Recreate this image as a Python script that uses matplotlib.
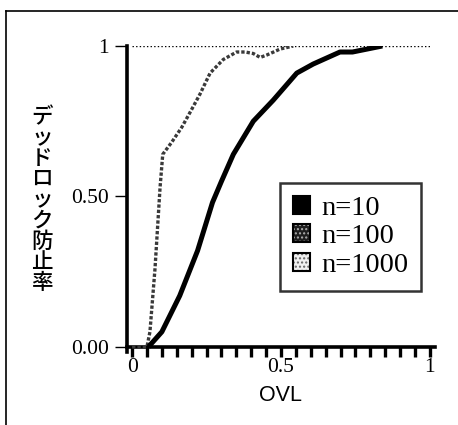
import matplotlib
matplotlib.use("Agg")
import matplotlib.pyplot as plt
from matplotlib.patches import Rectangle
from matplotlib.lines import Line2D
from matplotlib.legend_handler import HandlerBase

# ---- data ----
n10_x = [0.055, 0.10, 0.16, 0.22, 0.27, 0.30, 0.34, 0.407, 0.474, 0.553, 0.608, 0.698, 0.74, 0.84]
n10_y = [0.0, 0.05, 0.17, 0.32, 0.48, 0.55, 0.64, 0.75, 0.82, 0.91, 0.94, 0.98, 0.98, 1.0]

n100_x = [0.0, 0.05, 0.06, 0.077, 0.094, 0.103, 0.133, 0.167, 0.195, 0.228, 0.262,
          0.306, 0.351, 0.38, 0.407, 0.43, 0.452, 0.475, 0.497, 0.52, 0.541]
n100_y = [0.0, 0.0, 0.05, 0.26, 0.53, 0.64, 0.68, 0.73, 0.78, 0.84, 0.91,
          0.955, 0.98, 0.98, 0.975, 0.962, 0.97, 0.98, 0.99, 0.995, 1.0]

n1000_x = [0.0, 1.0]
n1000_y = [1.0, 1.0]

labels = ["n=10", "n=100", "n=1000"]
x_ticklabels = ["0", "0.5", "1"]
y_ticklabels = ["0.00", "0.50", "1"]
ylabel_text = "デッドロック防止率"
xlabel_text = "OVL"

W, H = 458, 425
fig = plt.figure(figsize=(W / 100, H / 100), dpi=100)

# axes placed in pixel units
left_px, right_px, top_px, bottom_px = 127, 435, 46, 352
ax = fig.add_axes([left_px / W, (H - bottom_px) / H,
                   (right_px - left_px) / W, (bottom_px - top_px) / H])
ax.set_xlim(-0.017, 1.017)
ax.set_ylim(-0.017, 1.0)

ax.plot(n1000_x, n1000_y, color="black", lw=1.0, ls=(0, (1, 1.6)), label=labels[2], zorder=2)
ax.plot(n100_x, n100_y, color="#3a3a3a", lw=2.4, ls=(0, (1, 0.6)), label=labels[1], zorder=3)
ax.plot(n10_x, n10_y, color="black", lw=3.6, solid_capstyle="butt", label=labels[0], zorder=4)

for s in ["top", "right"]:
    ax.spines[s].set_visible(False)
ax.spines["bottom"].set_position(("data", 0))
ax.spines["bottom"].set_linewidth(2.6)
ax.spines["left"].set_linewidth(2.6)
ax.spines["left"].set_bounds(-0.017, 1.0)

serif = ["Liberation Serif", "DejaVu Serif"]
ax.set_xticks([0, 0.5, 1])
ax.set_xticklabels(x_ticklabels, family=serif, fontsize=15.5)
ax.set_xticks([i * 0.05 for i in range(21)], minor=True)
ax.tick_params(axis="x", which="both", direction="out", length=7, width=2.4, pad=1)
ax.set_yticks([0, 0.5, 1])
ax.set_yticklabels(y_ticklabels, family=serif, fontsize=15.5)
ax.tick_params(axis="y", direction="out", length=9, width=1.0, pad=4)

ax.set_xlabel(xlabel_text, family=["Liberation Sans"], fontsize=15.5, labelpad=6)

# vertical Japanese y label, one character per line
chars = list(ylabel_text)
y0, step = 117, 20.75
for i, ch in enumerate(chars):
    fig.text(42 / W, 1 - (y0 + i * step) / H, ch, family=["Noto Sans CJK JP", "DejaVu Sans"],
             fontsize=15.5, ha="center", va="center", fontweight="medium")


# legend with stippled swatches (fill + hatch + border overlaid)
class Swatch:
    def __init__(self, face, dots):
        self.face = face
        self.dots = dots


class SwatchHandler(HandlerBase):
    def create_artists(self, legend, orig_handle, xdescent, ydescent, width, height,
                       fontsize, trans):
        x, y = -xdescent, -ydescent
        arts = [Rectangle((x, y), width, height, facecolor=orig_handle.face,
                          edgecolor="none", transform=trans)]
        if orig_handle.dots is not None:
            arts.append(Rectangle((x, y), width, height, facecolor="none",
                                  edgecolor=orig_handle.dots, hatch="....", lw=0,
                                  transform=trans))
        arts.append(Rectangle((x, y), width, height, facecolor="none",
                              edgecolor="black", lw=1.5, transform=trans))
        return arts


h10 = Swatch("black", None)
h100 = Swatch("#1e1e1e", "#b0b0b0")
h1000 = Swatch("#f0f0f0", "#666666")

leg = ax.legend([h10, h100, h1000], labels, loc="upper left",
                bbox_to_anchor=(280 / W, 1 - 183 / H), bbox_transform=fig.transFigure,
                handler_map={Swatch: SwatchHandler()},
                prop={"family": serif, "size": 20.5}, frameon=True, fancybox=False,
                handlelength=0.6, handleheight=0.6, handletextpad=0.4,
                labelspacing=0.12, borderpad=0.45, borderaxespad=0)
leg.get_frame().set_edgecolor("black")
leg.get_frame().set_linewidth(1.8)

# outer frame lines (left and top)
fig.add_artist(Line2D([6 / W, 6 / W], [0, 1 - 11 / H], transform=fig.transFigure, color="black", lw=1.2))
fig.add_artist(Line2D([6 / W, 1], [1 - 11 / H, 1 - 11 / H], transform=fig.transFigure, color="black", lw=1.2))

fig.savefig("out.png", dpi=100)
